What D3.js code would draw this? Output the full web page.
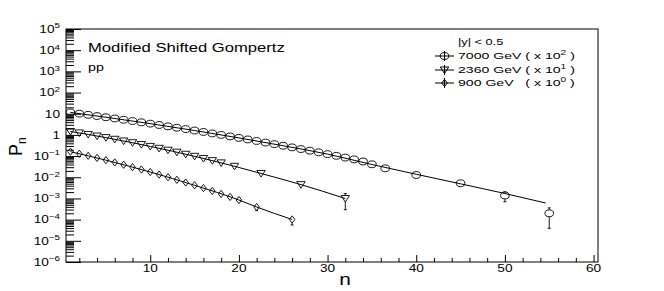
<!DOCTYPE html>
<html>
<head>
<meta charset="utf-8">
<script src="https://cdn.jsdelivr.net/npm/d3@7"></script>
<style>
  body { margin: 0; background: #fff; }
  text { font-family: "Liberation Sans", Arial, sans-serif; fill: #000; white-space: pre; }
</style>
</head>
<body>
<svg id="chart" width="664" height="291"></svg>
<script>
// multiplicity distributions, values already scaled (x100, x10, x1)
const n7000 = [1,2,3,4,5,6,7,8,9,10,11,12,13,14,15,16,17,18,19,20,21,22,23,24,25,26,27,28,29,30,31,32,33,34,35,36.5,40,45,50,55];
const p7000 = [11.5,10.1,8.87,7.78,6.82,5.96,5.19,4.52,3.93,3.40,2.94,2.54,2.18,1.88,1.61,1.38,1.175,1.00,0.851,0.723,0.612,0.516,0.436,0.366,0.308,0.258,0.215,0.180,0.150,0.124,0.103,0.085,0.070,0.0556,0.041,0.0265,0.0128,0.0052,0.00138,0.000199];
const e7000 = [0,0,0,0,0,0,0,0,0,0,0,0,0,0,0,0,0,0,0,0,0,0,0,0,0,0,0,0,0,0,0,0,0,0,0,0,0,0,0.00068,0.00016];

const n2360 = [1,2,3,4,5,6,7,8,9,10,11,12,13,14,15,16,17,18,19.5,22.5,27,32];
const p2360 = [1.45,1.24,1.05,0.887,0.745,0.622,0.516,0.428,0.352,0.287,0.233,0.190,0.153,0.122,0.0975,0.0773,0.0610,0.0479,0.0330,0.0151,0.00451,0.000995];
const e2360 = [0,0,0,0,0,0,0,0,0,0,0,0,0,0,0,0,0,0,0,0,0,0.0007];

const n900 = [1,2,3,4,5,6,7,8,9,10,11,12,13,14,15,16,17,18,19,20,22,26];
const p900 = [0.161,0.129,0.103,0.0817,0.0643,0.0502,0.0391,0.0302,0.0232,0.0177,0.0134,0.0101,0.0076,0.00565,0.00418,0.00308,0.00225,0.00163,0.00118,0.000845,0.000395,0.000102];
const e900 = [0,0,0,0,0,0,0,0,0,0,0,0,0,0,0,0,0,0,0,0,0.00013,0.000046];

// fitted curves
const fitN7000 = [1,5,10,15,20,25,30,35,40,45,50,54.6];
const fitP7000 = [11.5,6.82,3.40,1.61,0.723,0.308,0.124,0.0401,0.01384,0.00492,0.001714,0.00061];
const fitN2360 = [1,5,10,15,19.5,22.5,27,32];
const fitP2360 = [1.45,0.745,0.287,0.0975,0.0330,0.0151,0.00451,0.000995];
const fitN900 = [1,5,10,15,20,22,26];
const fitP900 = [0.161,0.0643,0.0177,0.00418,0.000845,0.000395,0.000102];

const xTicks = [10,20,30,40,50,60];
const yExps = [-6,-5,-4,-3,-2,-1,0,1,2,3,4,5];

const legendHead = '|y| < 0.5';
const legendLabels = [
  ['7000 GeV ( x 10', '2', ' )'],
  ['2360 GeV ( x 10', '1', ' )'],
  ['900 GeV   ( x 10', '0', ' )']
];
const legendShapes = ['circle', 'tri', 'diamond'];

const SX = 1.3; // text in the picture is stretched sideways
const svg = d3.select('#chart');
const padL = 66, padR = 598, padT = 29, padB = 262;

const x = d3.scaleLinear().domain([0.5, 60.5]).range([padL, padR]);
const y = d3.scaleLog().domain([1e-6, 1e5]).range([padB, padT]);

// text helper: parts = [[str, 'sup'|'sub'|null], ...]
function addText(px, py, parts, size, anchor, sx) {
  const g = svg.append('g').attr('transform', `translate(${px},${py}) scale(${sx || SX},1)`);
  const t = g.append('text').attr('font-size', size).attr('text-anchor', anchor || 'start');
  let shift = 0;
  parts.forEach(p => {
    let target = 0, fs = size;
    if (p[1] == 'sup') { target = -size * 0.42; fs = size * 0.72; }
    if (p[1] == 'sub') { target = size * 0.25; fs = size * 0.72; }
    t.append('tspan').attr('dy', target - shift).attr('font-size', fs).text(p[0]);
    shift = target;
  });
  return t;
}

// y axis, ticks pointing inward
const minors = [];
yExps.forEach(e => { if (e < 5) for (let k = 2; k <= 9; k++) minors.push(k * Math.pow(10, e)); });

svg.append('g').attr('transform', `translate(${padL},0)`)
  .call(d3.axisRight(y).tickValues(minors).tickSize(8).tickFormat(''))
  .call(g => g.select('.domain').remove());
svg.append('g').attr('transform', `translate(${padL},0)`)
  .call(d3.axisRight(y).tickValues(yExps.map(e => Math.pow(10, e))).tickSize(15).tickFormat(''))
  .call(g => g.select('.domain').remove());

yExps.forEach(e => {
  const v = Math.pow(10, e);
  let parts;
  if (e == 0) parts = [['1']];
  else if (e == 1) parts = [['10']];
  else parts = [['10'], [String(e).replace('-', '\u2212'), 'sup']];
  addText(60, y(v) + 3.8, parts, 10.5, 'end');
});

// x axis
const xMinor = d3.range(2, 61, 2).filter(v => v % 10 != 0);
svg.append('g').attr('transform', `translate(0,${padB})`)
  .call(d3.axisTop(x).tickValues(xMinor).tickSize(4).tickFormat(''))
  .call(g => g.select('.domain').remove());
svg.append('g').attr('transform', `translate(0,${padB})`)
  .call(d3.axisTop(x).tickValues(xTicks).tickSize(7).tickFormat(''))
  .call(g => g.select('.domain').remove());
xTicks.forEach(v => addText(x(v), 272, [[String(v)]], 10.5, 'middle'));

svg.selectAll('.tick line').attr('stroke', '#000');

// frame
svg.append('rect').attr('x', padL).attr('y', padT)
  .attr('width', padR - padL).attr('height', padB - padT)
  .attr('fill', 'none').attr('stroke', '#000').attr('stroke-width', 1);

// titles
addText(345, 285, [['n']], 16, 'middle');
svg.append('text').attr('transform', 'translate(22,156) rotate(-90)')
  .attr('font-size', 18)
  .call(t => {
    t.append('tspan').text('P');
    t.append('tspan').attr('dy', 4).attr('font-size', 12).text('n');
  });

addText(88, 52, [['Modified Shifted Gompertz']], 12.8);
addText(88, 71, [['pp']], 11);

// markers
function marker(g, shape, cx, cy) {
  if (shape == 'circle') {
    g.append('ellipse').attr('cx', cx).attr('cy', cy).attr('rx', 4.3).attr('ry', 3.4);
  } else if (shape == 'tri') {
    g.append('path').attr('d', `M${cx-4.2},${cy-3} L${cx+4.2},${cy-3} L${cx},${cy+3.6} Z`);
  } else {
    g.append('path').attr('d', `M${cx},${cy-3.6} L${cx+2.8},${cy} L${cx},${cy+3.6} L${cx-2.8},${cy} Z`);
  }
}

const line = d3.line().x(d => x(d[0])).y(d => y(d[1])).curve(d3.curveMonotoneX);

const series = [
  { n: n7000, p: p7000, e: e7000, fn: fitN7000, fp: fitP7000, shape: 'circle' },
  { n: n2360, p: p2360, e: e2360, fn: fitN2360, fp: fitP2360, shape: 'tri' },
  { n: n900, p: p900, e: e900, fn: fitN900, fp: fitP900, shape: 'diamond' }
];

series.forEach(s => {
  svg.append('path')
    .datum(s.fn.map((v, i) => [v, s.fp[i]]))
    .attr('d', line)
    .attr('fill', 'none').attr('stroke', '#000').attr('stroke-width', 1);

  const g = svg.append('g').attr('fill', 'none').attr('stroke', '#000').attr('stroke-width', 0.9);
  s.n.forEach((v, i) => {
    const cx = x(v), cy = y(s.p[i]);
    if (s.e[i] > 0) {
      const y1 = y(s.p[i] + s.e[i]), y2 = y(Math.max(s.p[i] - s.e[i], 1e-7));
      if (y1 < cy - 3.5) {
        g.append('line').attr('x1', cx).attr('x2', cx).attr('y1', y1).attr('y2', cy - 3.5);
        g.append('line').attr('x1', cx - 1.5).attr('x2', cx + 1.5).attr('y1', y1).attr('y2', y1);
      }
      g.append('line').attr('x1', cx).attr('x2', cx).attr('y1', cy + 3.5).attr('y2', y2);
      g.append('line').attr('x1', cx - 1.5).attr('x2', cx + 1.5).attr('y1', y2).attr('y2', y2);
    }
    marker(g, s.shape, cx, cy);
  });
});

// legend
addText(458, 45, [[legendHead]], 8.8, 'start', 1.45);
const rowY = [56, 70, 83];
legendLabels.forEach((lab, i) => {
  const ly = rowY[i];
  const g = svg.append('g').attr('fill', 'none').attr('stroke', '#000').attr('stroke-width', 1);
  g.append('line').attr('x1', 435).attr('x2', 454).attr('y1', ly).attr('y2', ly);
  g.append('line').attr('x1', 444.5).attr('x2', 444.5).attr('y1', ly - 5).attr('y2', ly + 5);
  marker(g, legendShapes[i], 444.5, ly);
  addText(458, ly + 3.2, [[lab[0]], [lab[1], 'sup'], [lab[2]]], 9.4, 'start', 1.5);
});
</script>
</body>
</html>
